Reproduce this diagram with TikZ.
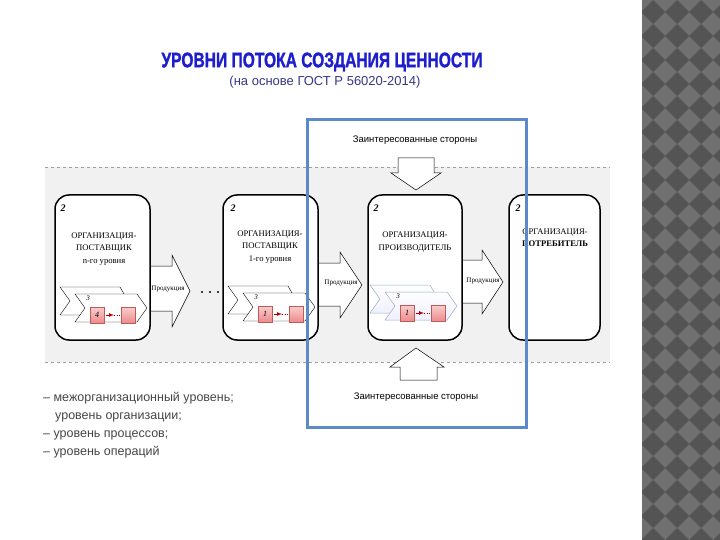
\documentclass[tikz,border=0pt]{standalone}
\usepackage{fontspec}
\setmainfont{Liberation Serif}
\newfontfamily\arialf{Liberation Sans}
\newfontfamily\titlef[FakeBold=1.6]{Liberation Sans}
\definecolor{bandgray}{RGB}{241,241,241}
\definecolor{dashgray}{RGB}{150,160,175}
\definecolor{framblue}{RGB}{91,137,201}
\definecolor{titleblue}{RGB}{30,30,205}
\definecolor{subblue}{RGB}{55,55,130}
\definecolor{listgray}{RGB}{70,70,70}
\definecolor{pinkA}{RGB}{250,205,205}
\definecolor{pinkB}{RGB}{236,140,140}
\definecolor{pinkline}{RGB}{190,90,90}
\definecolor{chevblue}{RGB}{150,172,200}
\definecolor{stripmid}{RGB}{112,112,112}
\definecolor{stripdark}{RGB}{84,84,84}
\tikzset{
  orgbox/.style={draw=black, line width=1.5pt, rounded corners=14pt, fill=white,
     minimum width=94pt, minimum height=145pt, inner sep=0pt},
  blockarrow/.style={draw=black, line width=0.5pt, fill=white},
  orgtext/.style={align=center, font=\fontsize{8.6}{12.3}\selectfont, inner sep=0pt},
  numtwo/.style={font=\fontsize{10}{10}\selectfont\bfseries\itshape, inner sep=0pt},
  prodtext/.style={font=\fontsize{7}{7}\selectfont, inner sep=0pt},
  sidetext/.style={font=\arialf\fontsize{9.5}{10}\selectfont, inner sep=0pt},
  listtext/.style={font=\arialf\fontsize{12.5}{14}\selectfont, text=listgray, inner sep=0pt, anchor=base west},
  chevback/.style={draw=black, line width=0.4pt, fill=white},
  pinksq/.style={draw=pinkline, line width=0.4pt, top color=pinkA, bottom color=pinkB},
}
\newcommand\procgroup[4]{%
  \begin{scope}[shift={(#1,#2)}]
    \draw[#4] (0,0) -- (60,0) -- (68,14) -- (60,28) -- (0,28) -- (10,14) -- cycle;
    \draw[#4] (15,7) -- (77,7) -- (87,21) -- (77,35) -- (15,35) -- (25,21) -- cycle;
    \node[font=\fontsize{7}{7}\selectfont\itshape, inner sep=0pt] at (28,11.5) {3};
    \draw[pinksq] (30,20) rectangle (44,36);
    \node[font=\fontsize{8}{8}\selectfont\itshape, inner sep=0pt] at (37,28) {#3};
    \draw[pinksq] (61,20) rectangle (75,36);
    \draw[red!70!black, line width=0.7pt, -latex] (46,28) -- (54,28);
    \draw[red!50!black, line width=0.5pt, dotted] (54,28) -- (60,28);
  \end{scope}}
\begin{document}
\begin{tikzpicture}[x=1pt,y=-1pt]
\useasboundingbox (0,0) rectangle (720,540);
\fill[white] (0,0) rectangle (720,540);
% decorative strip
\begin{scope}
  \clip (642,0) rectangle (720,540);
  \fill[stripmid] (642,0) rectangle (720,540);
  \foreach \i in {-1,0,1,2,3} {
    \foreach \j in {-1,0,...,23} {
      \fill[stripdark] ({653+24*\i},{12+24*\j-12}) -- ++(12,12) -- ++(-12,12) -- ++(-12,-12) -- cycle;
    }
  }
\end{scope}
% title
\node[inner sep=0pt, text=titleblue] (title) at (322,62)
  {\scalebox{0.78}[1.05]{\titlef\bfseries\fontsize{20}{20}\selectfont УРОВНИ ПОТОКА СОЗДАНИЯ ЦЕННОСТИ}};
\node[inner sep=0pt, text=subblue, font=\arialf\fontsize{13}{13}\selectfont] (subtitle) at (325,82)
  {(на основе ГОСТ Р 56020-2014)};
% band
\fill[bandgray] (45,167) rectangle (610,362);
\draw[dashgray, dashed, line width=0.5pt] (45,167) -- (610,167);
\draw[dashgray, dashed, line width=0.5pt] (45,362) -- (610,362);
% block arrows (behind boxes)
\draw[blockarrow] (150,266) -- (172,266) -- (172,255) -- (190,291) -- (172,327) -- (172,311) -- (150,311);
\draw[blockarrow] (318,263) -- (340,263) -- (340,252) -- (362,285) -- (340,318) -- (340,306) -- (318,306);
\draw[blockarrow] (462,260) -- (482,260) -- (482,250) -- (503,282) -- (482,314) -- (482,303) -- (462,303);
\node[prodtext] (p1) at (168,289) {Продукция};
\node[prodtext] (p2) at (341,283) {Продукция};
\node[prodtext] (p3) at (483,281) {Продукция};
\foreach \dx in {202,210,218} { \fill (\dx,292) circle (1.1); }
% boxes
\node[orgbox, minimum width=95pt] (b1) at (102.5,267.5) {};
\node[orgbox, minimum width=95pt] (b2) at (270.5,267.5) {};
\node[orgbox, minimum width=94pt] (b3) at (415,267.5) {};
\node[orgbox, minimum width=91pt] (b4) at (554.5,267.5) {};
\node[numtwo] (n1) at (63,208) {2};
\node[numtwo] (n2) at (233,208) {2};
\node[numtwo] (n3) at (376,208) {2};
\node[numtwo] (n4) at (518,208) {2};
\node[orgtext] (t1) at (104,249) {ОРГАНИЗАЦИЯ-\\ПОСТАВЩИК\\n-го уровня};
\node[orgtext] (t2) at (270,247) {ОРГАНИЗАЦИЯ-\\ПОСТАВЩИК\\1-го уровня};
\node[orgtext] (t3) at (415,242) {ОРГАНИЗАЦИЯ-\\ПРОИЗВОДИТЕЛЬ};
\node[orgtext] (t4) at (555,238) {ОРГАНИЗАЦИЯ-\\\textbf{ПОТРЕБИТЕЛЬ}};
% processes
\procgroup{60}{287}{4}{chevback}
\procgroup{228}{286}{1}{chevback}
\procgroup{370}{285}{1}{draw=chevblue, line width=0.5pt, top color=white, bottom color=blue!6}
% stakeholder arrows
\node[sidetext] (s1) at (415,140) {Заинтересованные стороны};
\node[sidetext] (s2) at (416,397) {Заинтересованные стороны};
\draw[blockarrow] (398,158) -- (434,158) -- (434,173) -- (441,173) -- (416,190) -- (391,173) -- (398,173) -- cycle;
\draw[blockarrow] (400,380) -- (437,380) -- (437,367) -- (444,367) -- (416,348) -- (390,367) -- (400,367) -- cycle;
% blue frame
\draw[framblue, line width=3pt] (307,120) rectangle (526,427);
% list
\node[listtext] (l1) at (43,401) {– межорганизационный уровень;};
\node[listtext] (l2) at (55,419) {уровень организации;};
\node[listtext] (l3) at (43,437) {– уровень процессов;};
\node[listtext] (l4) at (43,455) {– уровень операций};
\end{tikzpicture}
\end{document}
